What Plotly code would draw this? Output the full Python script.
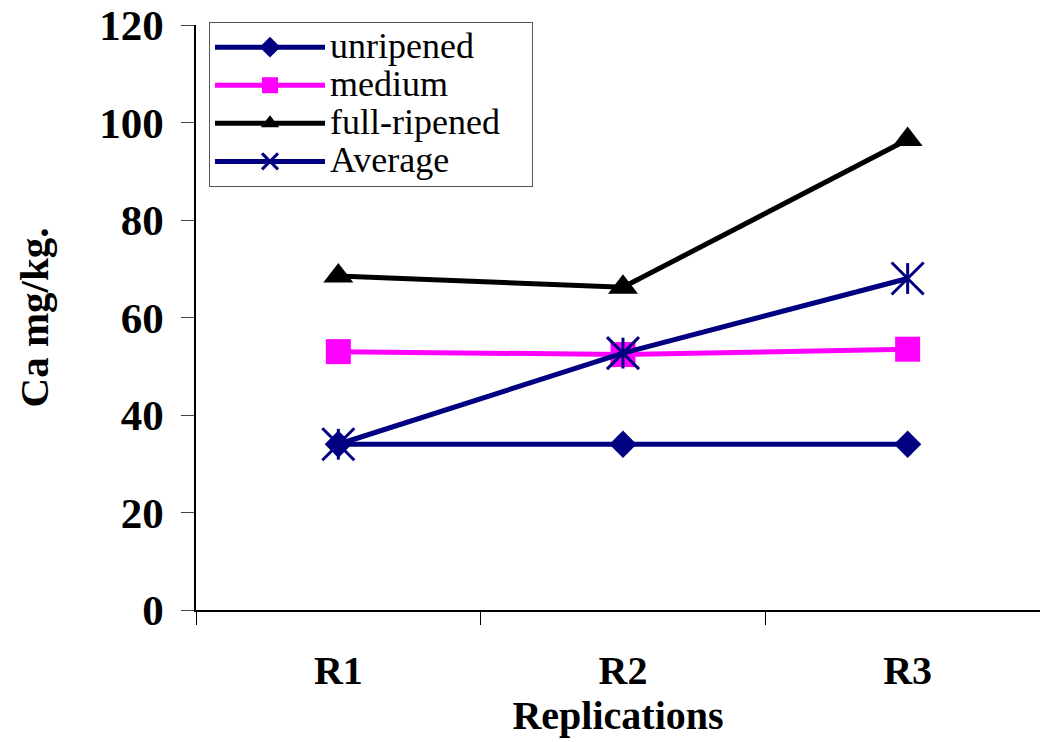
import plotly.graph_objects as go

categories = ["R1", "R2", "R3"]
series_names = ["unripened", "medium", "full-ripened", "Average"]
unripened = [34.0, 34.0, 34.0]
medium = [53.0, 52.4, 53.5]
full_ripened = [68.5, 66.2, 96.5]
average = [34.0, 52.7, 68.0]
y_ticks = [0, 20, 40, 60, 80, 100, 120]

NAVY = "#000080"
MAGENTA = "#FF00FF"
BLACK = "#000000"
FONT = "Liberation Serif"


def legend_label(name):
    # larger legend text on a tighter row pitch, as in the original
    return "<span style='font-size:36px'>" + name + "&nbsp;&nbsp;&nbsp;</span>"


fig = go.Figure()
fig.add_trace(go.Scatter(
    x=categories, y=unripened, name=legend_label(series_names[0]), mode="lines+markers",
    line=dict(color=NAVY, width=5),
    marker=dict(symbol="diamond", size=21, color=NAVY)))
fig.add_trace(go.Scatter(
    x=categories, y=medium, name=legend_label(series_names[1]), mode="lines+markers",
    line=dict(color=MAGENTA, width=5),
    marker=dict(symbol="square", size=25, color=MAGENTA)))
fig.add_trace(go.Scatter(
    x=categories, y=full_ripened, name=legend_label(series_names[2]), mode="lines+markers",
    line=dict(color=BLACK, width=5),
    marker=dict(symbol="triangle-up", size=26, color=BLACK)))
fig.add_trace(go.Scatter(
    x=categories, y=average, name=legend_label(series_names[3]), mode="lines+markers",
    legendgroup="avg",
    line=dict(color=NAVY, width=5),
    marker=dict(symbol="x-thin-open", size=32, color=NAVY,
                line=dict(color=NAVY, width=3))))
fig.add_trace(go.Scatter(
    x=categories, y=average, name=series_names[3], mode="markers",
    legendgroup="avg", showlegend=False,
    marker=dict(symbol="line-ns-open", size=22, color=NAVY,
                line=dict(color=NAVY, width=3))))

fig.update_layout(
    width=1040, height=742,
    margin=dict(l=196, r=0, t=25, b=132),
    paper_bgcolor="white", plot_bgcolor="white",
    font=dict(family=FONT, color="black"),
    showlegend=True,
    legend=dict(
        x=0.0154, y=1.005, xanchor="left", yanchor="top",
        bgcolor="white", bordercolor="#555555", borderwidth=1,
        font=dict(family=FONT, size=27, color="black"),
        itemwidth=110, tracegroupgap=0,
    ),
    xaxis=dict(
        type="category", range=[-0.5, 2.465],
        tickson="boundaries", ticks="outside", ticklen=13, tickcolor="black",
        showline=True, linecolor="black", linewidth=1.5,
        showgrid=False, zeroline=False,
        tickfont=dict(family=FONT, size=40, color="black", weight="bold"),
        ticklabelstandoff=24,
        title=dict(text="<b>Replications</b>", standoff=0,
                   font=dict(family=FONT, size=40, color="black")),
    ),
    yaxis=dict(
        range=[0, 120], tickvals=y_ticks, ticktext=[str(v) for v in y_ticks],
        ticks="outside", ticklen=13, tickcolor="#444444",
        showline=True, linecolor="black", linewidth=1.5,
        showgrid=False, zeroline=False,
        tickfont=dict(family=FONT, size=43, color="black", weight="bold"),
        ticklabelstandoff=9,
        title=dict(text="<b>Ca mg/kg.</b>", standoff=38,
                   font=dict(family=FONT, size=41, color="black")),
    ),
)

fig.write_html("out.html")
